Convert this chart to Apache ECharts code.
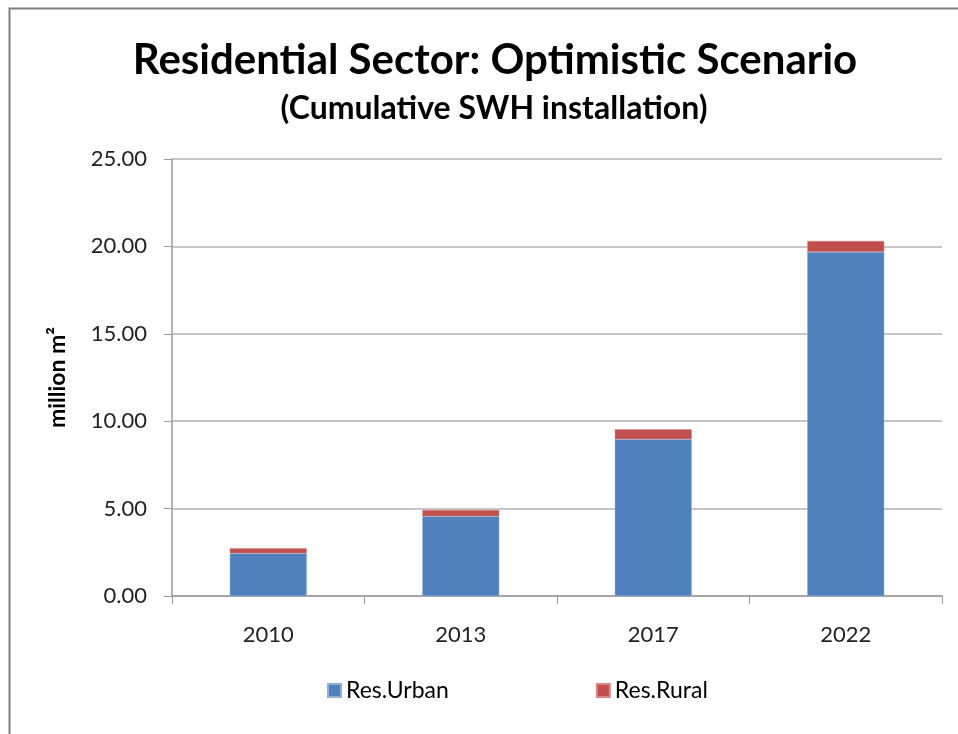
<!DOCTYPE html>
<html>
<head>
<meta charset="utf-8">
<script src="https://cdn.jsdelivr.net/npm/echarts@6/dist/echarts.min.js"></script>
<style>
  html, body { margin: 0; padding: 0; background: #fff; }
  #chart { width: 958px; height: 734px; }
</style>
</head>
<body>
<div id="chart"></div>
<script>
// chart data
const years = ['2010', '2013', '2017', '2022']
const resUrban = [2.44, 4.56, 8.97, 19.68]
const resRural = [0.29, 0.36, 0.57, 0.63]

const chart = echarts.init(document.getElementById('chart'))
const font = 'Lato, "Noto Sans", sans-serif'

const option = {
  backgroundColor: '#fff',
  animation: false,
  textStyle: { fontFamily: font },
  graphic: [{
    type: 'rect',
    shape: { x: 9.5, y: 8.5, width: 1000, height: 1000 },
    style: { fill: 'none', stroke: '#7f7f7f', lineWidth: 2 },
    silent: true
  }],
  title: [{
    text: 'Residential Sector: Optimistic Scenario',
    left: 490,
    textAlign: 'center',
    top: 34,
    textStyle: { fontFamily: font, fontSize: 42, fontWeight: 'bold', color: '#000' }
  }, {
    text: '(Cumulative SWH installation)',
    left: 489,
    textAlign: 'center',
    top: 88,
    textStyle: { fontFamily: font, fontSize: 32, fontWeight: 'bold', color: '#000' }
  }],
  legend: {
    data: ['Res.Urban', 'Res.Rural'],
    left: 322,
    top: 674,
    itemWidth: 13,
    itemHeight: 13,
    itemGap: 147,
    icon: 'rect',
    textStyle: { fontFamily: font, fontSize: 23, color: '#000' }
  },
  grid: { left: 172, right: 16, top: 159, bottom: 138 },
  xAxis: {
    type: 'category',
    data: years,
    axisLine: { lineStyle: { color: '#9a9a9a', width: 1.5 } },
    axisTick: { show: true, length: 8, lineStyle: { color: '#9a9a9a' } },
    axisLabel: { fontFamily: font, fontSize: 22, color: '#222', margin: 28 }
  },
  yAxis: {
    type: 'value',
    min: 0,
    max: 25,
    interval: 5,
    name: 'million m²',
    nameLocation: 'middle',
    nameRotate: 90,
    nameGap: 103,
    nameTextStyle: { fontFamily: font, fontSize: 23, fontWeight: 'bold', color: '#000' },
    axisLine: { show: true, lineStyle: { color: '#9a9a9a', width: 1.5 } },
    axisTick: { show: true, length: 8, lineStyle: { color: '#9a9a9a' } },
    axisLabel: {
      fontFamily: font, fontSize: 22, color: '#222', margin: 25,
      formatter: v => v.toFixed(2)
    },
    splitLine: { lineStyle: { color: '#b3b3b3', width: 1.5 } }
  },
  series: [{
    name: 'Res.Urban',
    type: 'bar',
    stack: 'total',
    barWidth: '40%',
    itemStyle: { color: '#4F81BD', borderColor: '#8eb1dc', borderWidth: 0.5 },
    data: resUrban
  }, {
    name: 'Res.Rural',
    type: 'bar',
    stack: 'total',
    barWidth: '40%',
    itemStyle: { color: '#C0504D', borderColor: '#d98a88', borderWidth: 0.5 },
    data: resRural
  }]
}

chart.setOption(option)
</script>
</body>
</html>
